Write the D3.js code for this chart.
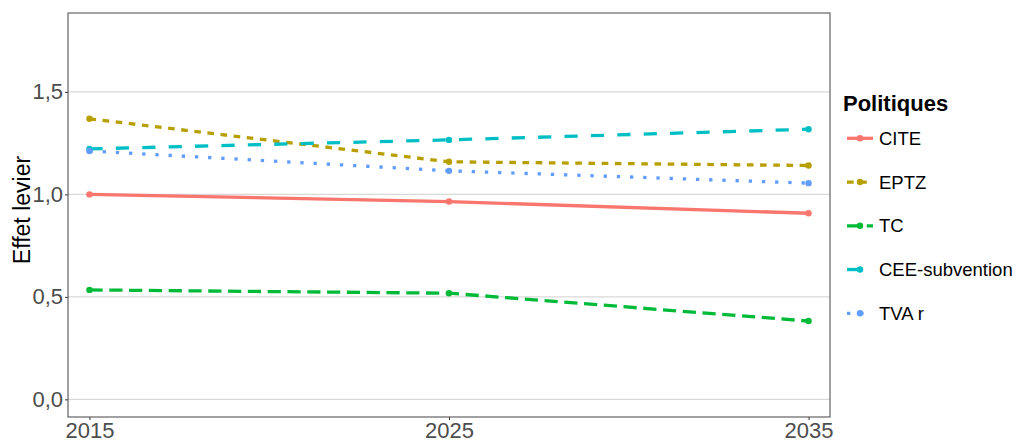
<!DOCTYPE html>
<html>
<head>
<meta charset="utf-8">
<script src="https://cdn.jsdelivr.net/npm/d3@7"></script>
<style>
  body { margin: 0; background: #fff; }
  text { font-family: "Liberation Sans", Arial, sans-serif; }
</style>
</head>
<body>
<svg id="chart"></svg>
<script>
// data
var years = [2015, 2025, 2035];
var politiques = ['CITE', 'EPTZ', 'TC', 'CEE-subvention', 'TVA r'];
var cite = [1.000, 0.965, 0.908];
var eptz = [1.369, 1.159, 1.141];
var tc   = [0.534, 0.518, 0.382];
var cee  = [1.222, 1.266, 1.318];
var tva  = [1.212, 1.115, 1.055];
var yTicks = [0, 0.5, 1, 1.5];

var colors = ['#F8766D', '#B79F00', '#00BA38', '#00BFC4', '#619CFF'];
var lwd = 3.3;
// ggplot linetypes: solid, 22, 42, 44, 13
var dashes = [null, [2, 2], [4, 2], [4, 4], [1, 3]];

var series = politiques.map(function(name, i){
  var vals = [cite, eptz, tc, cee, tva][i];
  return {
    name: name,
    color: colors[i],
    dash: dashes[i] ? dashes[i].map(d => d * lwd).join(',') : null,
    values: years.map((y, j) => ({year: y, value: vals[j]}))
  };
});

var width = 1016, height = 443;
var panel = {left: 68, right: 830, top: 13, bottom: 417};

var svg = d3.select('#chart')
  .attr('width', width)
  .attr('height', height);

var xScale = d3.scaleLinear()
  .domain([2014.403, 2035.597])
  .range([panel.left, panel.right]);

var yScale = d3.scaleLinear()
  .domain([-0.086, 1.885])
  .range([panel.bottom, panel.top]);

var fr = d3.formatLocale({decimal: ',', thousands: ' ', grouping: [3], currency: ['', '€']});
var fmt = fr.format('.1f');

//// grid
svg.append('g')
  .selectAll('line')
  .data(yTicks)
  .enter()
  .append('line')
    .attr('x1', panel.left)
    .attr('x2', panel.right)
    .attr('y1', d => yScale(d))
    .attr('y2', d => yScale(d))
    .attr('stroke', '#d9d9d9')
    .attr('stroke-width', 1.1);

//// axes
var yAxis = svg.append('g')
  .attr('transform', `translate(${panel.left},0)`)
  .call(d3.axisLeft(yScale).tickValues(yTicks).tickFormat(fmt).tickSize(3).tickPadding(2));

var xAxis = svg.append('g')
  .attr('transform', `translate(0,${panel.bottom})`)
  .call(d3.axisBottom(xScale).tickValues(years).tickFormat(d3.format('d')).tickSize(3).tickPadding(2));

[yAxis, xAxis].forEach(function(ax){
  ax.select('.domain').remove();
  ax.selectAll('line').attr('stroke', '#333');
  ax.selectAll('text')
    .attr('fill', '#4d4d4d')
    .style('font-size', '22px')
    .style('font-family', '"Liberation Sans", Arial, sans-serif');
});

//// panel border
svg.append('rect')
  .attr('x', panel.left)
  .attr('y', panel.top)
  .attr('width', panel.right - panel.left)
  .attr('height', panel.bottom - panel.top)
  .attr('fill', 'none')
  .attr('stroke', '#555')
  .attr('stroke-width', 1.1);

//// y title
svg.append('text')
  .attr('transform', `translate(30,${(panel.top + panel.bottom) / 2 - 5}) rotate(-90)`)
  .attr('text-anchor', 'middle')
  .style('font-size', '23px')
  .attr('fill', '#000')
  .text('Effet levier');

//// lines
var line = d3.line()
  .x(d => xScale(d.year))
  .y(d => yScale(d.value));

svg.append('g')
  .selectAll('path')
  .data(series)
  .enter()
  .append('path')
    .attr('d', d => line(d.values))
    .attr('fill', 'none')
    .attr('stroke', d => d.color)
    .attr('stroke-width', lwd)
    .attr('stroke-dasharray', d => d.dash)
    .attr('stroke-linecap', 'butt');

//// points
series.forEach(function(s){
  svg.append('g')
    .selectAll('circle')
    .data(s.values)
    .enter()
    .append('circle')
      .attr('cx', d => xScale(d.year))
      .attr('cy', d => yScale(d.value))
      .attr('r', 3.2)
      .attr('fill', s.color);
});

//// legend
var legend = svg.append('g').attr('transform', 'translate(843,0)');

legend.append('text')
  .attr('x', 0)
  .attr('y', 111)
  .style('font-size', '22px')
  .style('font-weight', 'bold')
  .attr('fill', '#000')
  .text('Politiques');

var rows = legend.selectAll('.key')
  .data(series)
  .enter()
  .append('g')
    .classed('key', true)
    .attr('transform', (d, i) => `translate(0,${138.3 + i * 43.75})`);

rows.append('line')
  .attr('x1', 4)
  .attr('x2', 30)
  .attr('stroke', d => d.color)
  .attr('stroke-width', lwd)
  .attr('stroke-dasharray', d => d.dash);

rows.append('circle')
  .attr('cx', 17)
  .attr('r', 3.2)
  .attr('fill', d => d.color);

rows.append('text')
  .attr('x', 36)
  .attr('dy', '0.35em')
  .style('font-size', '18.5px')
  .attr('fill', '#000')
  .text(d => d.name);
</script>
</body>
</html>
